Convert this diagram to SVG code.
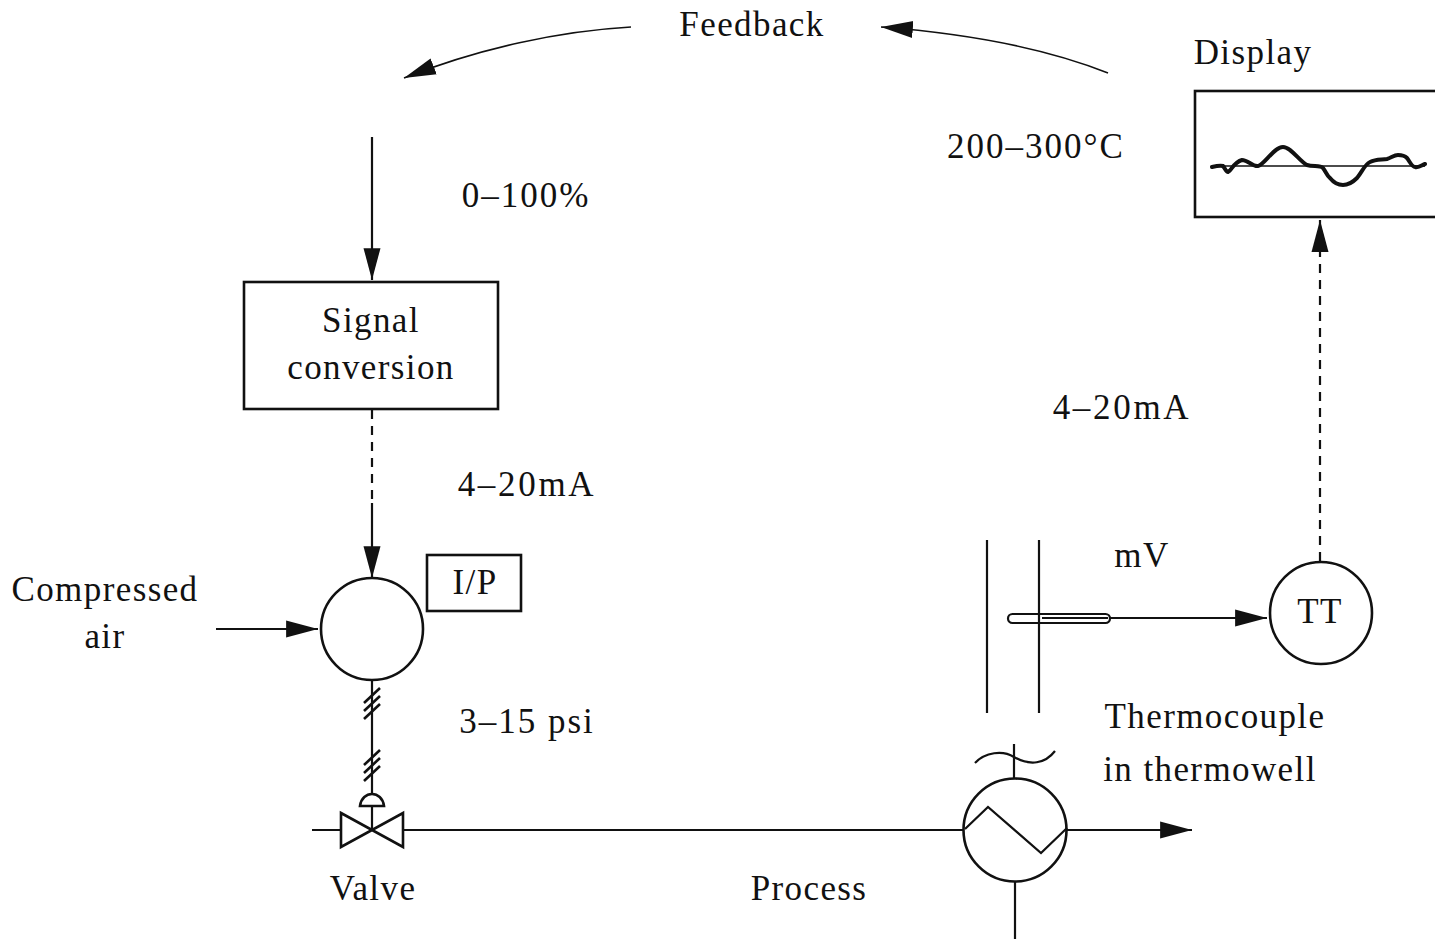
<svg xmlns="http://www.w3.org/2000/svg" width="1435" height="939" viewBox="0 0 1435 939">
<style>
text{font-family:"Liberation Serif","Times New Roman",serif;font-size:35px;letter-spacing:1.4px;fill:#111;text-anchor:middle}
.w1{letter-spacing:2px}
.w2{letter-spacing:2.7px}
.l{fill:none;stroke:#111;stroke-width:2.2}
.b{fill:#fff;stroke:#111;stroke-width:2.6}
.d{stroke-dasharray:9 7}
.t{fill:none;stroke:#111;stroke-width:2.6}
</style>
<defs>
<marker id="ah" markerUnits="userSpaceOnUse" markerWidth="34" markerHeight="20" refX="30" refY="8" orient="auto" viewBox="0 0 32 16"><path d="M0 0L30 8L0 16Z" fill="#111"/></marker>
</defs>
<rect width="1435" height="939" fill="#fff"/>
<g id="connectors">
<path class="l" d="M631 27C560 31 480 48 404 78" marker-end="url(#ah)" style="stroke-width:1.6"/>
<path class="l" d="M1108 73C1040 46 960 33 881 27" marker-end="url(#ah)" style="stroke-width:1.6"/>
<path class="l" d="M372 137V280" marker-end="url(#ah)"/>
<path class="l d" d="M372 410V503"/>
<path class="l" d="M372 503V578" marker-end="url(#ah)"/>
<path class="l" d="M216 629H318" marker-end="url(#ah)"/>
<path class="l" d="M372 680V800"/>
<path class="t" d="M364 703L380 688M364 711L380 696M364 719L380 704M364 765L380 750M364 773L380 758M364 781L380 766"/>
<path class="l" d="M312 830H341M403 830H964"/>
<path class="l" d="M1067 830H1192" marker-end="url(#ah)"/>
<path class="l" d="M1110 618H1267" marker-end="url(#ah)"/>
<path class="l d" d="M1320 561V250"/>
<path class="l" d="M1320 250V220" marker-end="url(#ah)"/>
<path class="l" d="M1015 882V939"/>
</g>
<g id="feedback"><text x="752" y="36">Feedback</text></g>
<g id="display">
<text x="1253" y="64">Display</text>
<rect class="b" x="1195" y="91" width="245" height="126"/>
<path d="M1212 166H1425" fill="none" stroke="#111" stroke-width="1.6"/>
<path fill="none" stroke="#111" stroke-width="4" stroke-linecap="round" d="M1212 167C1216 166 1220 165 1223 166C1225 168 1226 172 1228 172C1231 171 1234 162 1242 160C1248 160 1253 167 1258 166C1264 165 1274 147 1283 147C1291 147 1300 162 1307 165C1313 167 1320 165 1323 168C1326 172 1327 176 1330 178C1334 183 1338 185 1343 185C1350 185 1354 181 1357 178C1362 172 1365 164 1370 162C1376 159 1382 160 1387 159C1391 158 1394 155 1398 155C1404 155 1406 157 1407 158C1410 162 1412 167 1415 167C1419 168 1422 165 1425 164"/>
<text class="w1" x="1036" y="158">200–300°C</text>
</g>
<g id="signal-conversion">
<rect class="b" x="244" y="282" width="254" height="127"/>
<text x="371" y="332">Signal</text>
<text x="371" y="379">conversion</text>
</g>
<g id="ip">
<circle class="b" cx="372" cy="629" r="51"/>
<rect class="b" x="427" y="555" width="94" height="56"/>
<text x="475" y="594">I/P</text>
</g>
<g id="compressed-air">
<text x="105" y="601">Compressed</text>
<text x="105" y="648">air</text>
</g>
<g id="valve">
<path class="t" d="M341 813L403 847V813L341 847Z"/>
<path class="l" d="M372 830V806"/>
<path d="M360 806C362 790 382 790 384 806Z" fill="#fff" stroke="#111" stroke-width="2.6"/>
<text x="373" y="900">Valve</text>
</g>
<g id="heat-exchanger">
<circle class="b" cx="1015" cy="830" r="51.5"/>
<path class="l" d="M965 829L988 807L1041 853L1067 828"/>
<path class="l" d="M1014 744V779"/>
<path class="l" d="M975 763C985 752 1003 750 1014 757C1030 766 1045 764 1055 751"/>
</g>
<g id="thermowell">
<path class="l" d="M987 540V713M1039 540V713"/>
<rect x="1008" y="614" width="102" height="9" rx="4.5" class="l"/>
<path class="l" d="M1042 618H1108"/>
</g>
<g id="tt">
<circle class="b" cx="1321" cy="613" r="51"/>
<text x="1320" y="623">TT</text>
</g>
<g id="labels">
<text class="w1" x="526" y="207">0–100%</text>
<text class="w2" x="527" y="496">4–20mA</text>
<text class="w2" x="1122" y="419">4–20mA</text>
<text x="1142" y="567">mV</text>
<text class="w1" x="527" y="733">3–15 psi</text>
<text x="1215" y="728">Thermocouple</text>
<text x="1210" y="781">in thermowell</text>
<text x="809" y="900">Process</text>
</g>
</svg>
